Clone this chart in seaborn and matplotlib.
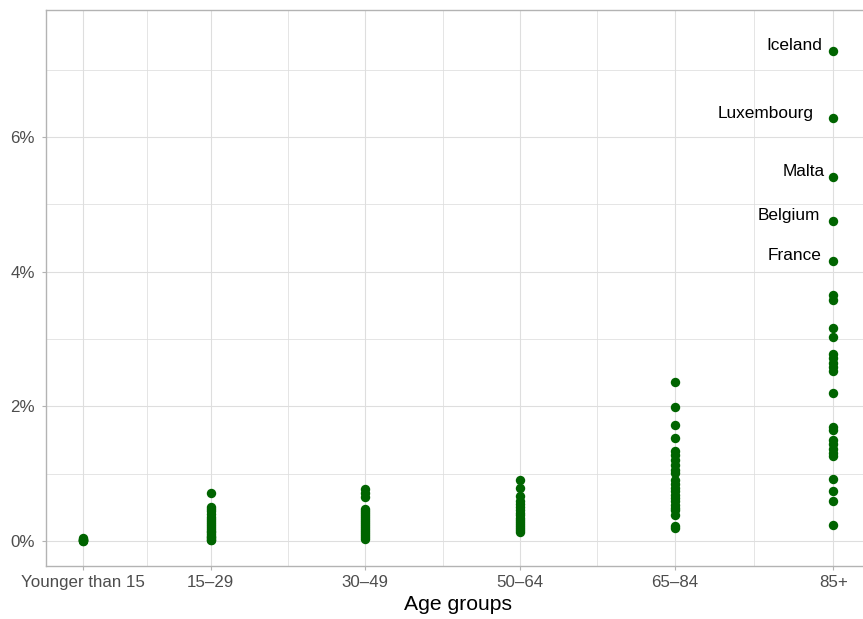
import matplotlib
matplotlib.use("Agg")
import matplotlib.pyplot as plt
from matplotlib.ticker import FixedLocator, FuncFormatter
import numpy as np
import pandas as pd
import seaborn as sns

# Age groups and their share values (in %) per country
age_groups = ["Younger than 15", "15\u201329", "30\u201349", "50\u201364", "65\u201384", "85+"]

under_15 = [0.00, 0.00, 0.01, 0.01, 0.02, 0.03, 0.04]
age_15_29 = [0.72, 0.51, 0.47, 0.44, 0.40, 0.36, 0.33, 0.30, 0.27, 0.24, 0.21,
             0.18, 0.15, 0.13, 0.10, 0.08, 0.06, 0.04, 0.02, 0.01]
age_30_49 = [0.77, 0.71, 0.65, 0.48, 0.45, 0.42, 0.39, 0.36, 0.33, 0.30, 0.27,
             0.24, 0.21, 0.18, 0.15, 0.12, 0.09, 0.06, 0.03]
age_50_64 = [0.90, 0.78, 0.67, 0.60, 0.55, 0.50, 0.46, 0.42, 0.38, 0.34, 0.31,
             0.28, 0.25, 0.22, 0.19, 0.16, 0.13]
age_65_84 = [2.36, 1.99, 1.73, 1.53, 1.33, 1.27, 1.20, 1.13, 1.06, 1.01, 0.91,
             0.84, 0.79, 0.74, 0.69, 0.64, 0.59, 0.54, 0.49, 0.46, 0.39, 0.22, 0.19]
age_85_plus = [3.65, 3.58, 3.16, 3.03, 2.78, 2.72, 2.65, 2.58, 2.52, 2.20, 1.70,
               1.65, 1.50, 1.44, 1.37, 1.30, 1.26, 0.92, 0.75, 0.60, 0.24]

# Highest 85+ values, labelled by country
top_countries = ["Iceland", "Luxembourg", "Malta", "Belgium", "France"]
top_values = [7.28, 6.28, 5.41, 4.76, 4.16]

y_ticks = [0, 2, 4, 6]

# Horizontal placement of each age group on the axis
group_pos = [0.0, 0.826, 1.823, 2.823, 3.821, 4.845]

series = [under_15, age_15_29, age_30_49, age_50_64, age_65_84, age_85_plus]
rows = []
for g, vals in zip(age_groups, series):
    for v in vals:
        rows.append({"group": g, "value": v, "country": ""})
for c, v in zip(top_countries, top_values):
    rows.append({"group": age_groups[-1], "value": v, "country": c})
df = pd.DataFrame(rows)
pos_map = dict(zip(age_groups, group_pos))
df["x"] = df["group"].map(pos_map)

sns.set_theme(style="white")
plt.rcParams["font.family"] = ["Liberation Sans", "DejaVu Sans"]

W, H = 863, 619
fig = plt.figure(figsize=(W / 100, H / 100), dpi=100)
left_px, right_px, top_px, bottom_px = 45.5, 870.5, 10.0, 565.5
ax = fig.add_axes([left_px / W, (H - bottom_px) / H,
                   (right_px - left_px) / W, (bottom_px - top_px) / H])

grid_c = "#dedede"
sns.scatterplot(data=df, x="x", y="value", ax=ax, color="#006400",
                s=46, linewidth=0, zorder=3, legend=False)

# axis limits
px_per_unit = 155.0
x0_px = 82.5
ax.set_xlim((left_px - x0_px) / px_per_unit, (right_px - x0_px) / px_per_unit)
px_per_pct = 67.33
ax.set_ylim((541 - bottom_px) / px_per_pct, (541 - top_px) / px_per_pct)

ax.xaxis.set_major_locator(FixedLocator(group_pos))
ax.set_xticklabels(age_groups)
mids = [(a + b) / 2 for a, b in zip(group_pos[:-1], group_pos[1:])]
ax.xaxis.set_minor_locator(FixedLocator(mids))
ax.yaxis.set_major_locator(FixedLocator(y_ticks))
ax.yaxis.set_minor_locator(FixedLocator([1, 3, 5, 7]))
ax.yaxis.set_major_formatter(FuncFormatter(lambda v, p: f"{v:.0f}%"))

ax.grid(True, which="major", color=grid_c, linewidth=0.8, zorder=0)
ax.grid(True, which="minor", color=grid_c, linewidth=0.55, zorder=0)
ax.set_axisbelow(True)

for sp in ax.spines.values():
    sp.set_color("#b3b3b3")
    sp.set_linewidth(1.0)
    sp.set_visible(True)

ax.tick_params(axis="both", which="major", length=3, width=0.8, color="#b3b3b3",
               labelsize=12.2, labelcolor="#4d4d4d", pad=3.5)
ax.tick_params(axis="y", which="major", pad=4.5)
ax.tick_params(axis="both", which="minor", length=0)
ax.tick_params(bottom=True, left=True)

ax.set_xlabel("Age groups", fontsize=15.2, color="black", labelpad=4)
ax.set_ylabel("")

# country labels next to the highest points
label_offsets = {"Iceland": (-11, 5), "Luxembourg": (-20, 5), "Malta": (-9, 5),
                 "Belgium": (-13, 5), "France": (-11.5, 5)}
lab = df[df["country"] != ""]
for _, r in lab.iterrows():
    dx, dy = label_offsets[r["country"]]
    ax.annotate(r["country"], (r["x"], r["value"]), xytext=(dx, dy),
                textcoords="offset pixels", ha="right", va="center",
                fontsize=12.4, color="black", zorder=4)

fig.savefig("out.png", dpi=100)
